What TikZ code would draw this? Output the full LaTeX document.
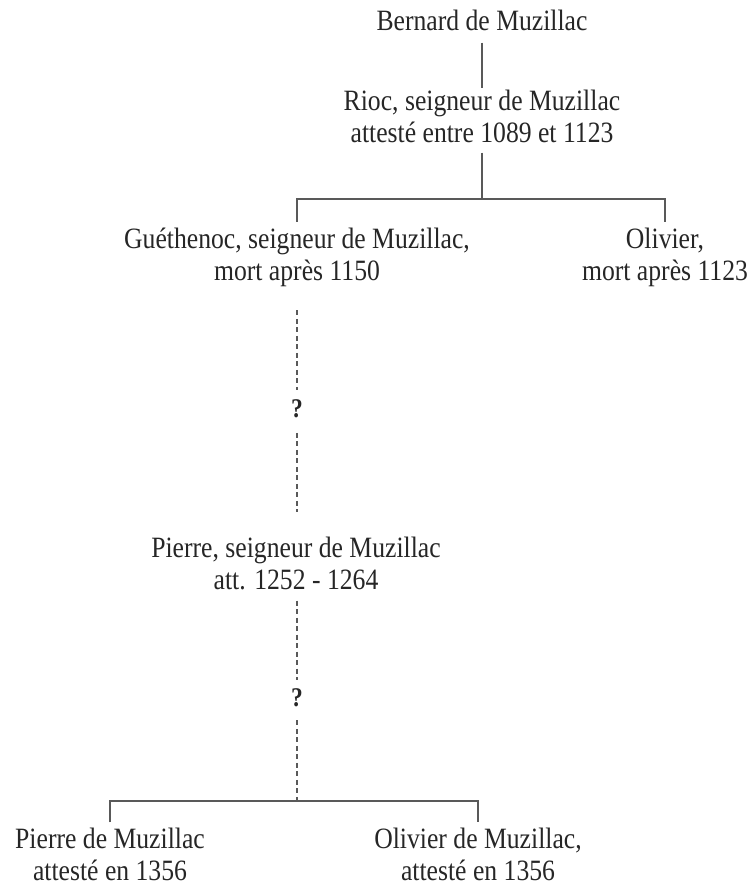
\documentclass[tikz,border=0pt]{standalone}
\usepackage{fontspec}
\setmainfont{Liberation Serif}[FakeStretch=0.87]
\begin{document}
\begin{tikzpicture}[x=1pt,y=-1pt,
  person/.style={align=center,inner sep=0pt,font=\fontsize{29.5}{32}\selectfont,text=black!85},
  query/.style={inner sep=0pt,font=\fontsize{27}{32}\selectfont\bfseries,text=black!85},
  link/.style={draw=black!65,line width=1.2pt},
  doubt/.style={draw=black!65,line width=1.2pt,dash pattern=on 5pt off 3.5pt}]
\useasboundingbox (0,0) rectangle (750,888);

\node[person] (bernard) at (482,19.95) {Bernard de Muzillac};
\node[person] (rioc) at (482,115.95) {Rioc, seigneur de Muzillac\\attesté entre 1089 et 1123};
\node[person] (guethenoc) at (297,257.15) {Guéthenoc, seigneur de Muzillac,\\mort après 1150};
\node[person] (olivier) at (665,257.15) {Olivier,\\mort après 1123};
\node[query] (q1) at (297,408.5) {?};
\node[person] (pierre) at (296,563.95) {Pierre, seigneur de Muzillac\\att. 1252 - 1264};
\node[query] (q2) at (297,698) {?};
\node[person] (pdm) at (110,853.95) {Pierre de Muzillac\\attesté en 1356};
\node[person] (odm) at (478,853.95) {Olivier de Muzillac,\\attesté en 1356};

\coordinate (fork1) at (482,199);
\coordinate (fork2) at (297,801);

\draw[link,shorten <=12pt,shorten >=1pt] (bernard) -- (rioc);
\draw[link,shorten <=10pt] (rioc) -- (fork1);
\draw[link] ([yshift=5.9pt]guethenoc.north) |- (fork1) -| ([yshift=5.9pt]olivier.north);

\draw[doubt,shorten <=23.6pt,shorten >=9.4pt] (guethenoc) -- (q1);
\draw[doubt,shorten <=15pt,shorten >=24.9pt] (q1) -- (pierre.north-|q1);
\draw[doubt,shorten <=10pt,shorten >=8.8pt] (pierre.south-|q2) -- (q2);
\draw[doubt,shorten <=13pt] (q2) -- (fork2);
\draw[link] ([yshift=4.9pt]pdm.north) |- (fork2) -| ([yshift=4.9pt]odm.north);
\end{tikzpicture}
\end{document}
